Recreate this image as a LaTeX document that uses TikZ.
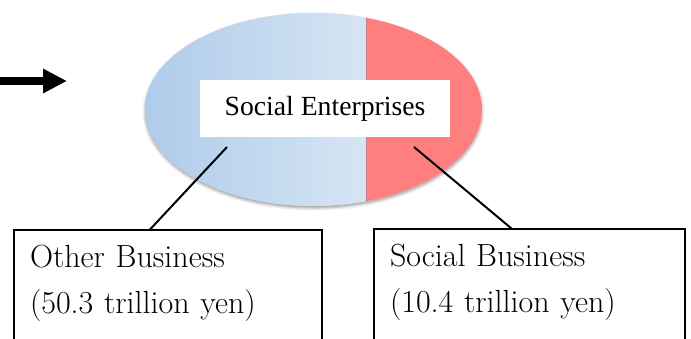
\documentclass[tikz,border=0pt]{standalone}
\usepackage{fontspec}
\usetikzlibrary{arrows.meta}
\usetikzlibrary{shapes.geometric}
\usetikzlibrary{shadows.blur}
\usetikzlibrary{calc}
\newfontfamily\ellipseFont{Liberation Serif}
\definecolor{otherBlueDark}{RGB}{174,203,234}
\definecolor{otherBlueLight}{RGB}{214,229,244}
\definecolor{socialRed}{RGB}{255,127,127}
\definecolor{splitLine}{RGB}{196,128,146}
\tikzset{connector/.style={line width=2pt}}
\tikzset{businessBox/.style={draw, line width=1.6pt, anchor=north west, align=left, inner xsep=16pt, inner ysep=16pt, outer sep=0pt, text height=21pt, text depth=100pt, font=\fontsize{32}{46.5}\selectfont}}
\tikzset{enterpriseLabel/.style={fill=white, minimum width=250pt, minimum height=57pt, inner sep=0pt, font=\ellipseFont\fontsize{27.7}{30}\selectfont}}

\begin{document}
\begin{tikzpicture}[x=1pt,y=-1pt]
\useasboundingbox (0,0) rectangle (691,338);

% pointer from the left
\coordinate (arrowTail) at (0,81);
\coordinate (arrowTip) at (67,81);
\draw[line width=8pt,-{Triangle[length=24pt,width=23pt]}] (arrowTail) -- (arrowTip);

% enterprise ellipse
\node[ellipse, minimum width=337pt, minimum height=193pt, inner sep=0pt, fill=otherBlueLight, blur shadow={shadow xshift=0pt,shadow yshift=-2pt,shadow blur radius=3pt}] (enterprise) at (313.5,109.5) {};
\begin{scope}
  \clip (enterprise.center) ellipse [x radius=168.5pt, y radius=96.5pt];
  \shade[left color=otherBlueDark,right color=otherBlueLight] (144,0) rectangle (366,215);
  \fill[socialRed] (366,0) rectangle (490,215);
  \draw[line width=0.6pt, splitLine] (366,0) -- (366,215);
\end{scope}
\node[enterpriseLabel] (enterpriseText) at (325,108.5) {Social Enterprises};

% the two parts
\node[businessBox, text width=276pt] (otherBox) at (14,230) {Other Business\\(50.3 trillion yen)};
\node[businessBox, text width=279pt] (socialBox) at (374,229) {Social Business\\(10.4 trillion yen)};

\coordinate (otherTip) at (227,147);
\coordinate (socialTip) at (414,147);
\draw[connector] (otherTip) -- ($(otherBox.north west)!0.44!(otherBox.north east)$);
\draw[connector] (socialTip) -- ($(socialBox.north west)!0.444!(socialBox.north east)$);
\end{tikzpicture}
\end{document}
